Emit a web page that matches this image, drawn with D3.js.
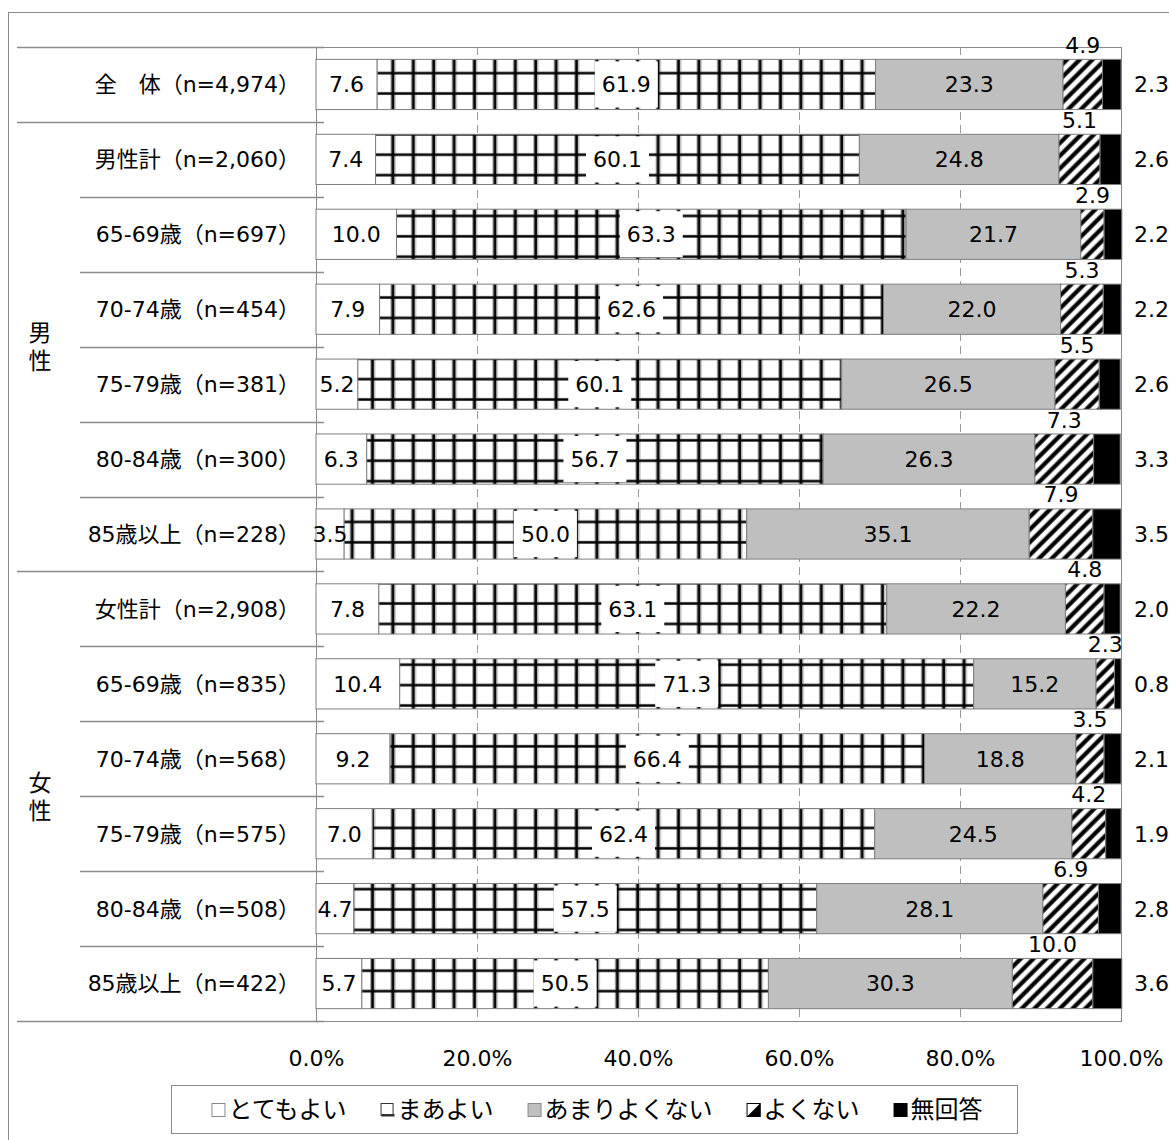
<!DOCTYPE html>
<html>
<head>
<meta charset="utf-8">
<script src="https://cdn.jsdelivr.net/npm/d3@7"></script>
<style>
body { margin: 0; background: #fff; }
svg text { font-family: "DejaVu Sans", "Noto Sans CJK JP", sans-serif; fill: #000; }
</style>
</head>
<body>
<svg id="chart"></svg>
<script>
// categories (top to bottom)
var categories = [
    "全　体（n=4,974）",
    "男性計（n=2,060）",
    "65-69歳（n=697）",
    "70-74歳（n=454）",
    "75-79歳（n=381）",
    "80-84歳（n=300）",
    "85歳以上（n=228）",
    "女性計（n=2,908）",
    "65-69歳（n=835） ",
    "70-74歳（n=568） ",
    "75-79歳（n=575） ",
    "80-84歳（n=508） ",
    "85歳以上（n=422） "
];

var seriesNames = ["とてもよい", "まあよい", "あまりよくない", "よくない", "無回答"];

var veryGood    = [7.6, 7.4, 10.0, 7.9, 5.2, 6.3, 3.5, 7.8, 10.4, 9.2, 7.0, 4.7, 5.7];
var fairlyGood  = [61.9, 60.1, 63.3, 62.6, 60.1, 56.7, 50.0, 63.1, 71.3, 66.4, 62.4, 57.5, 50.5];
var notVeryGood = [23.3, 24.8, 21.7, 22.0, 26.5, 26.3, 35.1, 22.2, 15.2, 18.8, 24.5, 28.1, 30.3];
var notGood     = [4.9, 5.1, 2.9, 5.3, 5.5, 7.3, 7.9, 4.8, 2.3, 3.5, 4.2, 6.9, 10.0];
var noAnswer    = [2.3, 2.6, 2.2, 2.2, 2.6, 3.3, 3.5, 2.0, 0.8, 2.1, 1.9, 2.8, 3.6];

var groupNames = ["男性", "女性"];
var groupFirst = [1, 7];
var groupLast = [6, 12];

var tickValues = [0, 20, 40, 60, 80, 100];

// table for d3.stack
var table = categories.map(function (c, i) {
    return {
        cat: c,
        s0: veryGood[i], s1: fairlyGood[i], s2: notVeryGood[i], s3: notGood[i], s4: noAnswer[i]
    };
});
var keys = ["s0", "s1", "s2", "s3", "s4"];
var stacked = d3.stack().keys(keys)(table);

var WIDTH = 1169, HEIGHT = 1140;
var plot = { left: 316, right: 1121, top: 47, bottom: 1021 };

var svg = d3.select("#chart").attr("width", WIDTH).attr("height", HEIGHT);

svg.append("defs").html(`
  <pattern id="grid" patternUnits="userSpaceOnUse" x="15.4" y="1.8" width="20.4" height="20.4">
    <rect width="20.4" height="20.4" fill="#fff"/>
    <rect x="8" y="0" width="1" height="20.4" fill="#999"/>
    <rect x="12" y="0" width="1" height="20.4" fill="#999"/>
    <rect x="0" y="8.5" width="20.4" height="1" fill="#aaa"/>
    <rect x="9" y="0" width="2.6" height="20.4" fill="#000"/>
    <rect x="0" y="9" width="20.4" height="2.4" fill="#000"/>
  </pattern>
  <pattern id="diag" patternUnits="userSpaceOnUse" width="9" height="9" patternTransform="rotate(45)">
    <rect width="9" height="9" fill="#fff"/>
    <rect x="2.5" y="0" width="4.2" height="9" fill="#000"/>
  </pattern>
`);

var fills = ["#ffffff", "url(#grid)", "#bfbfbf", "url(#diag)", "#000000"];

// outer frame
svg.append("rect")
    .attr("x", 8.5).attr("y", 12.5)
    .attr("width", 1300).attr("height", 1300)
    .attr("fill", "none").attr("stroke", "#8a8a8a");

var x = d3.scaleLinear().domain([0, 100]).range([plot.left, plot.right]);
var y = d3.scaleBand().domain(categories).range([plot.top, plot.bottom])
    .paddingInner(0.33).paddingOuter(0.165);
var step = y.step();

// dashed gridlines
svg.append("g")
    .selectAll("line")
    .data(tickValues.filter(function (d) { return d > 0 && d < 100; }))
    .enter().append("line")
    .attr("x1", function (d) { return x(d) + 0.5; })
    .attr("x2", function (d) { return x(d) + 0.5; })
    .attr("y1", plot.top).attr("y2", plot.bottom)
    .attr("stroke", "#9a9a9a")
    .attr("stroke-dasharray", "8,5");

// plot border
svg.append("rect")
    .attr("x", plot.left + 0.5).attr("y", plot.top + 0.5)
    .attr("width", plot.right - plot.left).attr("height", plot.bottom - plot.top)
    .attr("fill", "none").attr("stroke", "#8a8a8a");

// category separators / y ticks
var boundaries = d3.range(categories.length + 1);
var longLines = [0, categories.length];
groupFirst.forEach(function (g) { longLines.push(g); });
groupLast.forEach(function (g) { longLines.push(g + 1); });

svg.append("g")
    .selectAll("line")
    .data(boundaries)
    .enter().append("line")
    .attr("x1", function (k) { return longLines.indexOf(k) >= 0 ? 17 : 80; })
    .attr("x2", plot.left + 8)
    .attr("y1", function (k) { return Math.round(plot.top + step * k) + 0.5; })
    .attr("y2", function (k) { return Math.round(plot.top + step * k) + 0.5; })
    .attr("stroke", "#8a8a8a")
    .attr("stroke-width", 1.3);

// bars
var series = svg.append("g").selectAll("g")
    .data(stacked)
    .enter().append("g")
    .attr("fill", function (d, i) { return fills[i]; });

series.selectAll("rect")
    .data(function (d) { return d; })
    .enter().append("rect")
    .attr("x", function (d) { return x(d[0]); })
    .attr("y", function (d) { return y(d.data.cat); })
    .attr("width", function (d) { return x(d[1]) - x(d[0]); })
    .attr("height", y.bandwidth())
    .attr("stroke", "#7f7f7f")
    .attr("stroke-width", 1);

// value labels
var labels = svg.append("g").attr("font-size", 22);

stacked.forEach(function (s, si) {
    s.forEach(function (d) {
        var v = d[1] - d[0];
        var txt = v.toFixed(1);
        var cx = (x(d[0]) + x(d[1])) / 2;
        var cy = y(d.data.cat) + y.bandwidth() / 2;
        if (si === 3) {
            cy = y(d.data.cat) - (y.step() - y.bandwidth()) / 2 - 2;
        }
        var anchor = "middle";
        if (si === 4) {
            cx = 1134;
            anchor = "start";
        }
        var t = labels.append("text")
            .attr("x", cx).attr("y", cy)
            .attr("dy", "0.36em")
            .attr("text-anchor", anchor)
            .text(txt);
        if (si === 1) {
            var w = t.node().getComputedTextLength();
            labels.insert("rect", function () { return t.node(); })
                .attr("x", cx - w / 2 - 7)
                .attr("y", y(d.data.cat) + 2)
                .attr("width", w + 14)
                .attr("height", y.bandwidth() - 4)
                .attr("fill", "#fff");
        }
    });
});

// category labels
svg.append("g")
    .selectAll("text")
    .data(categories)
    .enter().append("text")
    .attr("x", 300)
    .attr("y", function (d) { return y(d) + y.bandwidth() / 2; })
    .attr("dy", "0.36em")
    .attr("text-anchor", "end")
    .attr("font-size", 22)
    .text(function (d) { return d.trim(); });

// group labels (vertical)
groupNames.forEach(function (g, gi) {
    var top = plot.top + step * groupFirst[gi];
    var bot = plot.top + step * (groupLast[gi] + 1);
    var mid = (top + bot) / 2;
    g.split("").forEach(function (ch, ci) {
        svg.append("text")
            .attr("x", 40)
            .attr("y", mid + (ci - 0.5) * 28)
            .attr("dy", "0.36em")
            .attr("text-anchor", "middle")
            .attr("font-size", 23)
            .text(ch);
    });
});

// x axis
var xAxis = d3.axisBottom(x)
    .tickValues(tickValues)
    .tickSize(0)
    .tickPadding(29)
    .tickFormat(function (d) { return d.toFixed(1) + "%"; });

var ax = svg.append("g")
    .attr("transform", "translate(0," + plot.bottom + ")")
    .call(xAxis);
ax.select(".domain").remove();
ax.selectAll("text")
    .attr("font-size", 22)
    .attr("font-family", "\"DejaVu Sans\", \"Noto Sans CJK JP\", sans-serif");

// legend
var legendBox = { x: 171, y: 1085, w: 846, h: 48 };
svg.append("rect")
    .attr("x", legendBox.x + 0.5).attr("y", legendBox.y + 0.5)
    .attr("width", legendBox.w).attr("height", legendBox.h)
    .attr("fill", "#fff").attr("stroke", "#8a8a8a");

var legend = svg.append("g");
var cursor = 0, gap = 34, sym = 14;
seriesNames.forEach(function (name, i) {
    var g = legend.append("g");
    var t = g.append("text")
        .attr("x", sym + 3)
        .attr("y", 0)
        .attr("dy", "0.36em")
        .attr("font-size", 24)
        .attr("font-family", "\"Noto Sans CJK JP\", sans-serif")
        .text(name);
    var w = sym + 3 + t.node().getComputedTextLength();
    g.attr("transform", "translate(" + cursor + ",0)");
    var symY = -sym / 2 + 1;
    if (i === 3) {
        g.append("rect").attr("x", 0.5).attr("y", symY + 0.5).attr("width", sym - 1).attr("height", sym - 1)
            .attr("fill", "#fff").attr("stroke", "#000");
        g.append("polygon")
            .attr("points", [[sym, symY], [sym, symY + sym], [0, symY + sym]].join(" "))
            .attr("fill", "#000");
    } else if (i === 1) {
        g.append("rect").attr("x", 0.5).attr("y", symY + 0.5).attr("width", sym - 2).attr("height", sym - 2)
            .attr("fill", "#fff").attr("stroke", "#333");
        g.append("rect").attr("x", 1).attr("y", symY + sym - 3).attr("width", sym - 1).attr("height", 2.5)
            .attr("fill", "#333");
    } else {
        g.append("rect").attr("x", 0.5).attr("y", symY + 0.5).attr("width", sym - 1).attr("height", sym - 1)
            .attr("fill", fills[i])
            .attr("stroke", i === 4 ? "#000" : "#8a8a8a");
    }
    cursor += w + gap;
});
var total = cursor - gap;
legend.attr("transform", "translate(" + (legendBox.x + legendBox.w / 2 - total / 2 + 3) + "," + (legendBox.y + legendBox.h / 2) + ")");
</script>
</body>
</html>
